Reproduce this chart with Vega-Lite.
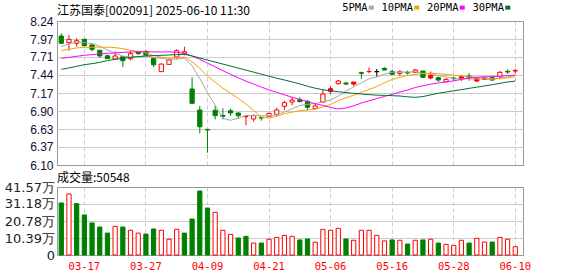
{
"$schema": "https://vega.github.io/schema/vega-lite/v6.json",
"background": "#ffffff",
"padding": {"left": 3, "top": 2, "right": 0, "bottom": 0},
"bounds": "flush",
"spacing": 22,
"config": {"view": {"stroke": "#999999", "strokeWidth": 1}, "font": "Liberation Sans"},
"resolve": {"scale": {"fill": "independent", "stroke": "independent", "y": "independent"}},
"data": {"values": [
{"d":"03-12","o":8.017,"hi":8.057,"lo":7.898,"cl":7.909,"k":"down","v":31.8,"vk":"down","5PMA":7.86,"10PMA":7.80,"20PMA":7.685,"30PMA":7.522},
{"d":"03-13","o":7.918,"hi":8.032,"lo":7.799,"cl":7.968,"k":"up","v":37.3,"vk":"up","5PMA":7.90,"10PMA":7.82,"20PMA":7.70,"30PMA":7.542},
{"d":"03-14","o":7.909,"hi":7.983,"lo":7.858,"cl":7.947,"k":"up","v":31.4,"vk":"down","5PMA":7.93,"10PMA":7.84,"20PMA":7.715,"30PMA":7.566},
{"d":"03-17","o":7.968,"hi":7.97,"lo":7.86,"cl":7.873,"k":"down","v":24.5,"vk":"down","5PMA":7.92,"10PMA":7.85,"20PMA":7.73,"30PMA":7.591},
{"d":"03-18","o":7.883,"hi":7.898,"lo":7.789,"cl":7.819,"k":"down","v":19.6,"vk":"down","5PMA":7.903,"10PMA":7.85,"20PMA":7.74,"30PMA":7.606},
{"d":"03-19","o":7.805,"hi":7.81,"lo":7.695,"cl":7.72,"k":"down","v":17.1,"vk":"down","5PMA":7.865,"10PMA":7.85,"20PMA":7.75,"30PMA":7.626},
{"d":"03-20","o":7.724,"hi":7.739,"lo":7.675,"cl":7.68,"k":"down","v":13.4,"vk":"down","5PMA":7.808,"10PMA":7.85,"20PMA":7.76,"30PMA":7.651},
{"d":"03-21","o":7.675,"hi":7.789,"lo":7.67,"cl":7.72,"k":"up","v":17.5,"vk":"up","5PMA":7.762,"10PMA":7.844,"20PMA":7.765,"30PMA":7.671},
{"d":"03-24","o":7.71,"hi":7.72,"lo":7.556,"cl":7.65,"k":"down","v":17.1,"vk":"down","5PMA":7.718,"10PMA":7.829,"20PMA":7.774,"30PMA":7.685},
{"d":"03-25","o":7.68,"hi":7.799,"lo":7.655,"cl":7.754,"k":"up","v":15.1,"vk":"up","5PMA":7.705,"10PMA":7.804,"20PMA":7.779,"30PMA":7.70},
{"d":"03-26","o":7.779,"hi":7.789,"lo":7.739,"cl":7.754,"k":"down","v":13.4,"vk":"up","5PMA":7.712,"10PMA":7.789,"20PMA":7.784,"30PMA":7.71},
{"d":"03-27","o":7.784,"hi":7.81,"lo":7.72,"cl":7.73,"k":"down","v":12.8,"vk":"down","5PMA":7.722,"10PMA":7.765,"20PMA":7.784,"30PMA":7.72},
{"d":"03-28","o":7.685,"hi":7.695,"lo":7.556,"cl":7.59,"k":"down","v":15.9,"vk":"down","5PMA":7.696,"10PMA":7.729,"20PMA":7.78,"30PMA":7.725},
{"d":"03-31","o":7.487,"hi":7.61,"lo":7.482,"cl":7.60,"k":"up","v":15.1,"vk":"up","5PMA":7.686,"10PMA":7.702,"20PMA":7.78,"30PMA":7.73},
{"d":"04-01","o":7.595,"hi":7.685,"lo":7.59,"cl":7.66,"k":"up","v":9.6,"vk":"up","5PMA":7.667,"10PMA":7.686,"20PMA":7.78,"30PMA":7.735},
{"d":"04-02","o":7.705,"hi":7.819,"lo":7.67,"cl":7.799,"k":"up","v":15.7,"vk":"up","5PMA":7.676,"10PMA":7.694,"20PMA":7.775,"30PMA":7.74},
{"d":"04-03","o":7.76,"hi":7.858,"lo":7.73,"cl":7.784,"k":"up","v":13.4,"vk":"down","5PMA":7.687,"10PMA":7.704,"20PMA":7.76,"30PMA":7.745},
{"d":"04-07","o":7.229,"hi":7.403,"lo":7.007,"cl":7.017,"k":"down","v":22.0,"vk":"down","5PMA":7.572,"10PMA":7.634,"20PMA":7.72,"30PMA":7.72},
{"d":"04-08","o":6.917,"hi":6.977,"lo":6.571,"cl":6.669,"k":"down","v":39.1,"vk":"down","5PMA":7.386,"10PMA":7.536,"20PMA":7.67,"30PMA":7.69},
{"d":"04-09","o":6.63,"hi":6.63,"lo":6.283,"cl":6.62,"k":"down","v":28.7,"vk":"down","5PMA":7.178,"10PMA":7.422,"20PMA":7.613,"30PMA":7.66},
{"d":"04-10","o":6.913,"hi":6.982,"lo":6.779,"cl":6.833,"k":"down","v":26.1,"vk":"up","5PMA":6.985,"10PMA":7.330,"20PMA":7.559,"30PMA":7.63},
{"d":"04-11","o":6.838,"hi":6.942,"lo":6.779,"cl":6.823,"k":"down","v":15.1,"vk":"up","5PMA":6.792,"10PMA":7.240,"20PMA":7.502,"30PMA":7.60},
{"d":"04-14","o":6.907,"hi":6.937,"lo":6.828,"cl":6.873,"k":"down","v":12.6,"vk":"up","5PMA":6.764,"10PMA":7.168,"20PMA":7.448,"30PMA":7.57},
{"d":"04-15","o":6.873,"hi":6.883,"lo":6.788,"cl":6.833,"k":"down","v":10.4,"vk":"down","5PMA":6.796,"10PMA":7.091,"20PMA":7.396,"30PMA":7.54},
{"d":"04-16","o":6.82,"hi":6.833,"lo":6.69,"cl":6.818,"k":"redfill","v":11.4,"vk":"down","5PMA":6.836,"10PMA":7.007,"20PMA":7.346,"30PMA":7.51},
{"d":"04-17","o":6.784,"hi":6.853,"lo":6.744,"cl":6.833,"k":"up","v":7.3,"vk":"up","5PMA":6.836,"10PMA":6.910,"20PMA":7.302,"30PMA":7.48},
{"d":"04-18","o":6.808,"hi":6.81,"lo":6.759,"cl":6.798,"k":"down","v":7.3,"vk":"down","5PMA":6.831,"10PMA":6.812,"20PMA":7.258,"30PMA":7.45},
{"d":"04-21","o":6.823,"hi":6.878,"lo":6.818,"cl":6.868,"k":"up","v":9.6,"vk":"up","5PMA":6.830,"10PMA":6.797,"20PMA":7.215,"30PMA":7.42},
{"d":"04-22","o":6.853,"hi":6.952,"lo":6.828,"cl":6.917,"k":"up","v":10.8,"vk":"up","5PMA":6.847,"10PMA":6.822,"20PMA":7.179,"30PMA":7.39},
{"d":"04-23","o":6.972,"hi":7.056,"lo":6.917,"cl":7.026,"k":"up","v":12.0,"vk":"up","5PMA":6.888,"10PMA":6.862,"20PMA":7.142,"30PMA":7.363},
{"d":"04-24","o":7.036,"hi":7.11,"lo":6.987,"cl":7.066,"k":"up","v":11.4,"vk":"up","5PMA":6.935,"10PMA":6.886,"20PMA":7.108,"30PMA":7.335},
{"d":"04-25","o":7.071,"hi":7.11,"lo":7.036,"cl":7.041,"k":"down","v":9.2,"vk":"down","5PMA":6.984,"10PMA":6.907,"20PMA":7.073,"30PMA":7.304},
{"d":"04-28","o":7.046,"hi":7.066,"lo":6.917,"cl":6.957,"k":"down","v":9.8,"vk":"down","5PMA":7.001,"10PMA":6.916,"20PMA":7.042,"30PMA":7.271},
{"d":"04-29","o":6.937,"hi":7.016,"lo":6.928,"cl":6.977,"k":"up","v":7.8,"vk":"up","5PMA":7.013,"10PMA":6.930,"20PMA":7.011,"30PMA":7.241},
{"d":"04-30","o":7.036,"hi":7.225,"lo":7.026,"cl":7.155,"k":"up","v":15.7,"vk":"up","5PMA":7.039,"10PMA":6.964,"20PMA":6.985,"30PMA":7.219},
{"d":"05-06","o":7.234,"hi":7.264,"lo":7.155,"cl":7.195,"k":"redfill","v":15.1,"vk":"up","5PMA":7.065,"10PMA":7.000,"20PMA":6.955,"30PMA":7.201},
{"d":"05-07","o":7.308,"hi":7.363,"lo":7.298,"cl":7.348,"k":"up","v":16.3,"vk":"up","5PMA":7.126,"10PMA":7.055,"20PMA":6.933,"30PMA":7.190},
{"d":"05-08","o":7.318,"hi":7.338,"lo":7.293,"cl":7.303,"k":"down","v":9.8,"vk":"down","5PMA":7.196,"10PMA":7.099,"20PMA":6.948,"30PMA":7.176},
{"d":"05-09","o":7.333,"hi":7.333,"lo":7.274,"cl":7.303,"k":"redfill","v":9.0,"vk":"up","5PMA":7.261,"10PMA":7.137,"20PMA":6.979,"30PMA":7.165},
{"d":"05-12","o":7.472,"hi":7.487,"lo":7.383,"cl":7.462,"k":"down","v":15.1,"vk":"up","5PMA":7.322,"10PMA":7.181,"20PMA":7.021,"30PMA":7.155},
{"d":"05-13","o":7.49,"hi":7.552,"lo":7.462,"cl":7.487,"k":"redfill","v":15.1,"vk":"up","5PMA":7.381,"10PMA":7.223,"20PMA":7.054,"30PMA":7.146},
{"d":"05-14","o":7.487,"hi":7.527,"lo":7.413,"cl":7.487,"k":"flat","v":12.0,"vk":"up","5PMA":7.408,"10PMA":7.267,"20PMA":7.087,"30PMA":7.138},
{"d":"05-15","o":7.537,"hi":7.552,"lo":7.507,"cl":7.512,"k":"down","v":8.6,"vk":"up","5PMA":7.450,"10PMA":7.323,"20PMA":7.119,"30PMA":7.135},
{"d":"05-16","o":7.487,"hi":7.522,"lo":7.438,"cl":7.448,"k":"down","v":9.2,"vk":"down","5PMA":7.479,"10PMA":7.370,"20PMA":7.150,"30PMA":7.130},
{"d":"05-19","o":7.462,"hi":7.512,"lo":7.423,"cl":7.487,"k":"up","v":9.0,"vk":"up","5PMA":7.484,"10PMA":7.403,"20PMA":7.184,"30PMA":7.125},
{"d":"05-20","o":7.477,"hi":7.502,"lo":7.443,"cl":7.467,"k":"down","v":6.7,"vk":"down","5PMA":7.480,"10PMA":7.430,"20PMA":7.215,"30PMA":7.114},
{"d":"05-21","o":7.477,"hi":7.527,"lo":7.472,"cl":7.512,"k":"up","v":9.0,"vk":"up","5PMA":7.485,"10PMA":7.447,"20PMA":7.251,"30PMA":7.105},
{"d":"05-22","o":7.497,"hi":7.497,"lo":7.398,"cl":7.403,"k":"down","v":9.2,"vk":"down","5PMA":7.463,"10PMA":7.457,"20PMA":7.278,"30PMA":7.117},
{"d":"05-23","o":7.433,"hi":7.487,"lo":7.373,"cl":7.393,"k":"redfill","v":9.6,"vk":"up","5PMA":7.452,"10PMA":7.466,"20PMA":7.301,"30PMA":7.142},
{"d":"05-26","o":7.398,"hi":7.413,"lo":7.333,"cl":7.363,"k":"down","v":7.3,"vk":"down","5PMA":7.428,"10PMA":7.456,"20PMA":7.318,"30PMA":7.166},
{"d":"05-27","o":7.338,"hi":7.393,"lo":7.333,"cl":7.373,"k":"up","v":6.5,"vk":"up","5PMA":7.409,"10PMA":7.445,"20PMA":7.334,"30PMA":7.184},
{"d":"05-28","o":7.393,"hi":7.413,"lo":7.353,"cl":7.383,"k":"down","v":5.9,"vk":"up","5PMA":7.383,"10PMA":7.434,"20PMA":7.351,"30PMA":7.203},
{"d":"05-29","o":7.413,"hi":7.438,"lo":7.348,"cl":7.383,"k":"redfill","v":9.0,"vk":"up","5PMA":7.379,"10PMA":7.421,"20PMA":7.372,"30PMA":7.220},
{"d":"05-30","o":7.423,"hi":7.467,"lo":7.353,"cl":7.403,"k":"down","v":7.3,"vk":"down","5PMA":7.381,"10PMA":7.417,"20PMA":7.393,"30PMA":7.239},
{"d":"06-03","o":7.383,"hi":7.398,"lo":7.333,"cl":7.348,"k":"redfill","v":10.2,"vk":"up","5PMA":7.378,"10PMA":7.403,"20PMA":7.403,"30PMA":7.257},
{"d":"06-04","o":7.393,"hi":7.408,"lo":7.363,"cl":7.373,"k":"redfill","v":7.9,"vk":"up","5PMA":7.378,"10PMA":7.393,"20PMA":7.412,"30PMA":7.275},
{"d":"06-05","o":7.398,"hi":7.413,"lo":7.348,"cl":7.363,"k":"down","v":7.9,"vk":"down","5PMA":7.374,"10PMA":7.379,"20PMA":7.413,"30PMA":7.293},
{"d":"06-06","o":7.413,"hi":7.497,"lo":7.373,"cl":7.477,"k":"up","v":10.8,"vk":"up","5PMA":7.393,"10PMA":7.386,"20PMA":7.421,"30PMA":7.314},
{"d":"06-09","o":7.492,"hi":7.522,"lo":7.452,"cl":7.482,"k":"down","v":9.6,"vk":"up","5PMA":7.409,"10PMA":7.395,"20PMA":7.430,"30PMA":7.333},
{"d":"06-10","o":7.502,"hi":7.532,"lo":7.462,"cl":7.497,"k":"redfill","v":5.05,"vk":"up","5PMA":7.439,"10PMA":7.409,"20PMA":7.432,"30PMA":7.348}
]},
"vconcat": [
{
"width": 466, "height": 144,
"title": {"text": "江苏国泰[002091] 2025-06-10 11:30", "anchor": "start", "frame": "group", "font": "Noto Sans CJK SC", "fontSize": 12, "fontWeight": "normal", "color": "#000000", "offset": -2.5},
"encoding": {"x": {"field": "d", "type": "ordinal", "sort": null, "scale": {"type": "band", "paddingInner": 0, "paddingOuter": 0.28, "align": 0.1}, "axis": {"values": ["03-17","03-27","04-09","04-21","05-06","05-16","05-28","06-10"], "title": null, "labels": false, "ticks": false, "domain": false, "grid": true, "gridDash": [4, 3], "gridColor": "#cccccc", "bandPosition": 0.5}}},
"layer": [
{"mark": {"type": "rule", "strokeWidth": 1},
 "encoding": {
  "y": {"field": "lo", "type": "quantitative", "scale": {"domain": [6.1, 8.24], "nice": false, "zero": false},
        "axis": {"values": [6.1, 6.37, 6.63, 6.9, 7.17, 7.44, 7.71, 7.97, 8.24], "tickCount": 50, "format": ".2f", "labelOverlap": false, "title": null, "ticks": false, "domain": false, "labelPadding": 4, "labelFont": "Liberation Sans", "labelFontSize": 12, "labelColor": "#101035", "grid": true, "gridColor": {"condition": {"test": "datum.value > 8.2 || datum.value < 6.15", "value": "#999999"}, "value": "#cccccc"}}},
  "y2": {"field": "hi"},
  "stroke": {"field": "k", "type": "nominal", "scale": {"domain": ["up","down","redfill","flat"], "range": ["#ff0000","#008000","#ff0000","#000000"]}, "legend": null}}},
{"mark": {"type": "bar", "width": {"band": 0.55}, "strokeWidth": 1},
 "encoding": {
  "y": {"field": "o", "type": "quantitative"},
  "y2": {"field": "cl"},
  "fill": {"field": "k", "type": "nominal", "scale": {"domain": ["up","down","redfill","flat"], "range": ["#ffffff","#008000","#ff0000","#000000"]}, "legend": null},
  "stroke": {"field": "k", "type": "nominal", "legend": null}}},
{"transform": [{"fold": ["5PMA","10PMA","20PMA","30PMA"], "as": ["ma","val"]}],
 "mark": {"type": "line", "strokeWidth": 1},
 "encoding": {
  "y": {"field": "val", "type": "quantitative"},
  "color": {"field": "ma", "type": "nominal", "scale": {"domain": ["5PMA","10PMA","20PMA","30PMA"], "range": ["#a6a6a6","#f5a300","#ff00ff","#006f35"]},
    "legend": {"orient": "none", "legendX": 309, "legendY": -19, "direction": "horizontal", "title": null, "symbolType": "stroke", "symbolSize": 25, "symbolStrokeWidth": 4, "labelAlign": "right", "labelOffset": -9, "labelFont": "DejaVu Sans Mono", "labelFontSize": 10.5, "labelColor": "#000000", "columnPadding": -1.5, "gridAlign": "each", "padding": 0, "labelLimit": 0}}}}
]
},
{
"width": 466, "height": 68,
"title": {"text": "成交量:50548", "anchor": "start", "frame": "group", "font": "Noto Sans CJK SC", "fontSize": 12, "fontWeight": "normal", "color": "#000000", "offset": -3.5},
"mark": {"type": "bar", "width": {"band": 0.55}, "strokeWidth": 1},
"encoding": {
 "x": {"field": "d", "type": "ordinal", "sort": null, "scale": {"type": "band", "paddingInner": 0, "paddingOuter": 0.28, "align": 0.1}, "axis": {"values": ["03-17","03-27","04-09","04-21","05-06","05-16","05-28","06-10"], "title": null, "ticks": false, "domain": false, "labelPadding": 6, "labelAngle": 0, "labelFont": "DejaVu Sans Mono", "labelFontSize": 10.5, "labelColor": "#ff0000", "grid": true, "gridDash": [4, 3], "gridColor": "#cccccc", "bandPosition": 0.5}},
 "y": {"field": "v", "type": "quantitative", "scale": {"domain": [0, 41.57], "nice": false, "zero": true},
       "axis": {"values": [0, 10.39, 20.78, 31.18, 41.57], "tickCount": 50, "labelExpr": "datum.value == 0 ? '0' : format(datum.value, '.2f') + '万'", "labelOverlap": false, "title": null, "ticks": false, "domain": false, "labelPadding": 2.5, "labelFont": "DejaVu Sans", "labelFontSize": 13, "labelColor": "#222222", "grid": true, "gridColor": {"condition": {"test": "datum.value > 41 || datum.value < 0.1", "value": "#999999"}, "value": "#cccccc"}}},
 "fill": {"field": "vk", "type": "nominal", "scale": {"domain": ["up","down"], "range": ["#ffffff","#008000"]}, "legend": null},
 "stroke": {"field": "vk", "type": "nominal", "scale": {"domain": ["up","down"], "range": ["#ff0000","#008000"]}, "legend": null}
}
}
]
}
